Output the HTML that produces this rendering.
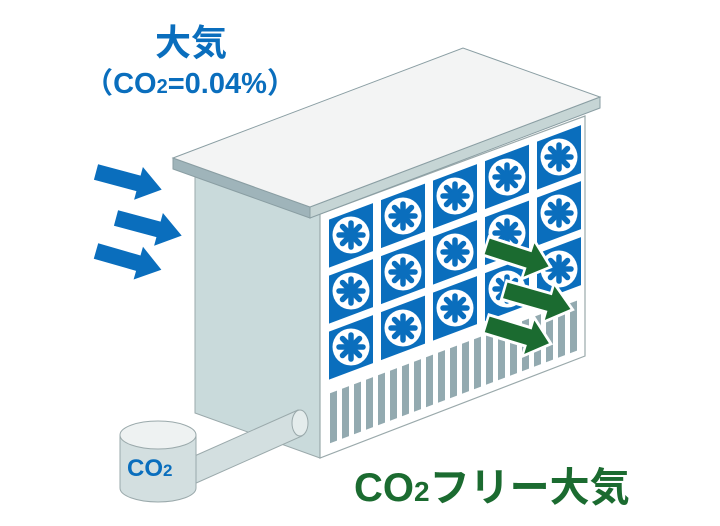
<!DOCTYPE html>
<html><head><meta charset="utf-8"><style>
html,body{margin:0;padding:0;background:#fff;}
svg{display:block;}
text{font-family:"Liberation Sans","Noto Sans CJK JP",sans-serif;font-weight:bold;}
</style></head><body>
<svg width="720" height="526" viewBox="0 0 720 526" xmlns="http://www.w3.org/2000/svg">
<defs>
  <polygon id="arr" points="0,-8 44,-8 44,-17 68,0 44,17 44,8 0,8"/>
  <g id="fan">
    <circle r="18.5" fill="#fff"/>
    <g stroke="#0a6ebd" stroke-width="5.5" stroke-linecap="round">
      <line x1="0" y1="-12" x2="0" y2="12"/>
      <line x1="-12" y1="0" x2="12" y2="0"/>
      <line x1="-8.5" y1="-8.5" x2="8.5" y2="8.5"/>
      <line x1="-8.5" y1="8.5" x2="8.5" y2="-8.5"/>
    </g>
    <circle r="5.5" fill="#0a6ebd"/>
  </g>
</defs>

<text x="191" y="55" font-size="36" fill="#0a6ebd" text-anchor="middle">大気</text>
<text x="190" y="93" font-size="29" fill="#0a6ebd" text-anchor="middle">（CO<tspan font-size="20">2</tspan>=0.04%）</text>

<g fill="#0a6ebd">
  <use href="#arr" transform="translate(96,172) rotate(15)"/>
  <use href="#arr" transform="translate(116,218) rotate(15)"/>
  <use href="#arr" transform="translate(96,251) rotate(16)"/>
</g>

<polygon points="195,168 320,214 320,458 195,413" fill="#c9dadb" stroke="#9aa9ab" stroke-width="1"/>
<polygon points="320,214 585,116 585,356 320,458" fill="#fff" stroke="#9aa9ab" stroke-width="1.2"/>

<g transform="matrix(1,-0.375,0,1,0,0)">
  <g fill="#0a6ebd">
    <rect x="329" y="343" width="44" height="48"/><rect x="381" y="343" width="44" height="48"/><rect x="433" y="343" width="44" height="48"/><rect x="485" y="343" width="44" height="48"/><rect x="537" y="343" width="44" height="48"/>
    <rect x="329" y="399" width="44" height="48"/><rect x="381" y="399" width="44" height="48"/><rect x="433" y="399" width="44" height="48"/><rect x="485" y="399" width="44" height="48"/><rect x="537" y="399" width="44" height="48"/>
    <rect x="329" y="455" width="44" height="48"/><rect x="381" y="455" width="44" height="48"/><rect x="433" y="455" width="44" height="48"/><rect x="485" y="455" width="44" height="48"/><rect x="537" y="455" width="44" height="48"/>
  </g>
  <g fill="#93aab0">
    <rect x="330" y="517" width="7" height="50"/><rect x="342" y="517" width="7" height="50"/><rect x="354" y="517" width="7" height="50"/><rect x="366" y="517" width="7" height="50"/><rect x="378" y="517" width="7" height="50"/><rect x="390" y="517" width="7" height="50"/><rect x="402" y="517" width="7" height="50"/><rect x="414" y="517" width="7" height="50"/><rect x="426" y="517" width="7" height="50"/><rect x="438" y="517" width="7" height="50"/><rect x="450" y="517" width="7" height="50"/><rect x="462" y="517" width="7" height="50"/><rect x="474" y="517" width="7" height="50"/><rect x="486" y="517" width="7" height="50"/><rect x="498" y="517" width="7" height="50"/><rect x="510" y="517" width="7" height="50"/><rect x="522" y="517" width="7" height="50"/><rect x="534" y="517" width="7" height="50"/><rect x="546" y="517" width="7" height="50"/><rect x="558" y="517" width="7" height="50"/><rect x="570" y="517" width="7" height="50"/>
  </g>
</g>
<g>
  <use href="#fan" x="351" y="235"/><use href="#fan" x="403" y="216"/><use href="#fan" x="455" y="196"/><use href="#fan" x="507" y="177"/><use href="#fan" x="559" y="157"/>
  <use href="#fan" x="351" y="291"/><use href="#fan" x="403" y="272"/><use href="#fan" x="455" y="252"/><use href="#fan" x="507" y="233"/><use href="#fan" x="559" y="213"/>
  <use href="#fan" x="351" y="347"/><use href="#fan" x="403" y="328"/><use href="#fan" x="455" y="308"/><use href="#fan" x="507" y="289"/><use href="#fan" x="559" y="269"/>
</g>

<polygon points="173,158 310,207 310,218 173,169" fill="#9fb4ba" stroke="#8a9ea3" stroke-width="1"/>
<polygon points="310,207 600,97 600,108 310,218" fill="#c6d5d5" stroke="#8a9ea3" stroke-width="1"/>
<polygon points="173,158 463,48 600,97 310,207" fill="#f3f4f4" stroke="#8a9ea3" stroke-width="1"/>

<g fill="#1b6b30" stroke="#fff" stroke-width="2.5" stroke-linejoin="miter">
  <use href="#arr" transform="translate(486,246) rotate(18) scale(1.0,1.2)"/>
  <use href="#arr" transform="translate(504,290) rotate(16) scale(1.05,1.2)"/>
  <use href="#arr" transform="translate(486,324) rotate(17) scale(1.0,1.2)"/>
</g>

<polygon points="190,458 298,410 302,436 194,484" fill="#d3dfe0" stroke="#9aa9ab" stroke-width="1"/>
<ellipse cx="300" cy="423" rx="8" ry="13" fill="#e4ecec" stroke="#9aa9ab" stroke-width="1"/>

<path d="M120,435 L120,488 A38,14 0 0 0 196,488 L196,435 Z" fill="#d3dfe0" stroke="#9aa9ab" stroke-width="1"/>
<ellipse cx="158" cy="435" rx="38" ry="14" fill="#eef2f2" stroke="#9aa9ab" stroke-width="1"/>
<text x="127" y="476" font-size="24" fill="#0a6ebd">CO<tspan font-size="17">2</tspan></text>

<text x="354" y="501" font-size="40" fill="#1b6b30">CO<tspan font-size="28">2</tspan>フリー大気</text>
</svg>
</body></html>
